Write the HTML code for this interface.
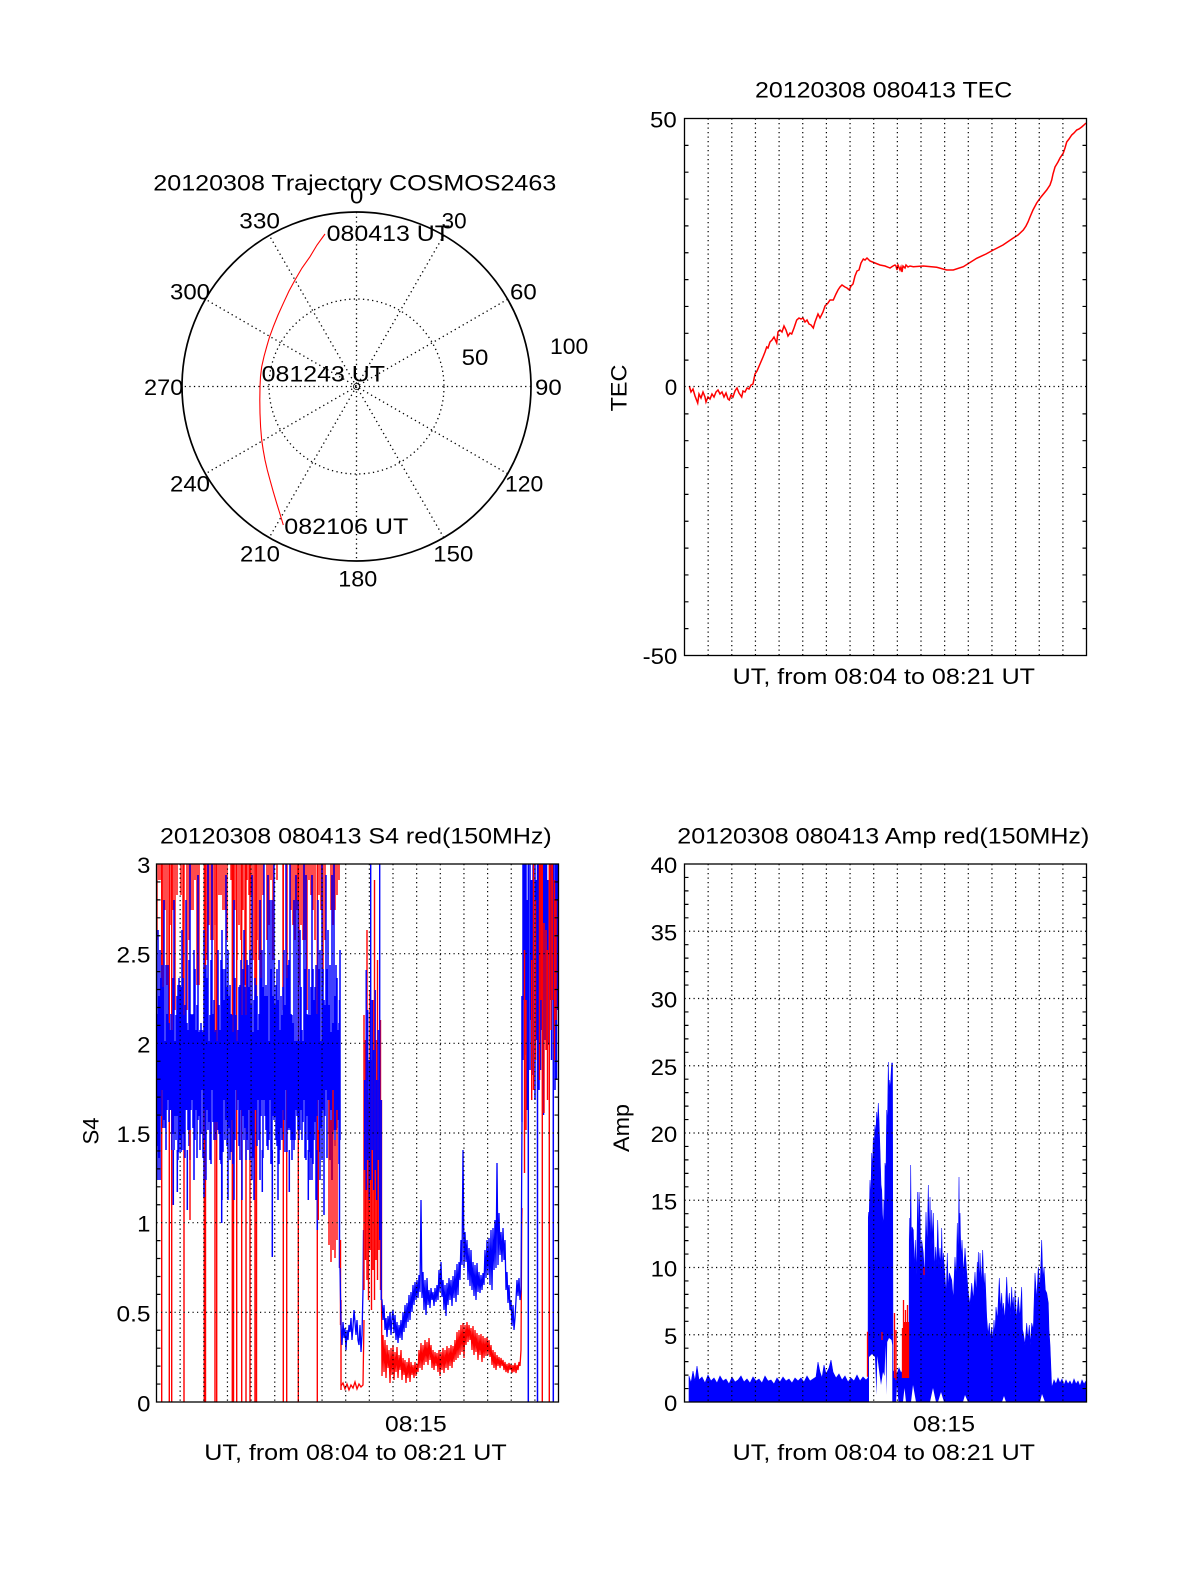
<!DOCTYPE html>
<html><head><meta charset="utf-8"><style>
html,body{margin:0;padding:0;background:#fff;}
svg{display:block;}
text{font-family:"Liberation Sans",Arial,sans-serif;font-size:22px;fill:#000;}
</style></head><body>
<svg width="1200" height="1575" viewBox="0 0 1200 1575" xmlns="http://www.w3.org/2000/svg">
<rect width="1200" height="1575" fill="#fff"/>

<!-- ================= POLAR ================= -->
<text x="153.3" y="190.7" textLength="403" lengthAdjust="spacingAndGlyphs">20120308 Trajectory COSMOS2463</text>
<g stroke="#000" stroke-width="1.3" stroke-dasharray="1.3 3.3" fill="none">
<circle cx="356.5" cy="386.5" r="87.5"/>
<line x1="356.5" y1="212" x2="356.5" y2="561"/>
<line x1="443.75" y1="235.4" x2="269.25" y2="537.6"/>
<line x1="507.6" y1="299.25" x2="205.4" y2="473.75"/>
<line x1="531" y1="386.5" x2="182" y2="386.5"/>
<line x1="507.6" y1="473.75" x2="205.4" y2="299.25"/>
<line x1="443.75" y1="537.6" x2="269.25" y2="235.4"/>
</g>
<circle cx="356.5" cy="386.5" r="3" fill="none" stroke="#000" stroke-width="0.8"/>
<circle cx="356.5" cy="386.5" r="174.5" fill="none" stroke="#000" stroke-width="1.7"/>
<polyline fill="none" stroke="#f00" stroke-width="1.1" points="325,234 317,245 310,256.7 302,268 295,280 289,291 283.3,303.3 278,315 273.3,326.7 269.5,337 266.7,346.7 264,356.5 261.7,366.7 260.5,376.5 260,386.7 259.8,400 260,413.3 260.6,427 261.7,440 263.2,450 265,460 267.3,470 270,480 273.2,491.5 276.7,503.3 280,514 283.3,525"/>
<text x="350" y="203.3" textLength="13.3" lengthAdjust="spacingAndGlyphs">0</text>
<text x="239.3" y="228.3" textLength="40.7" lengthAdjust="spacingAndGlyphs">330</text>
<text x="441.7" y="228.3" textLength="25" lengthAdjust="spacingAndGlyphs">30</text>
<text x="170" y="299.3" textLength="40" lengthAdjust="spacingAndGlyphs">300</text>
<text x="510" y="299.3" textLength="26.7" lengthAdjust="spacingAndGlyphs">60</text>
<text x="550" y="354" textLength="38.3" lengthAdjust="spacingAndGlyphs">100</text>
<text x="461.7" y="365" textLength="26.7" lengthAdjust="spacingAndGlyphs">50</text>
<text x="144" y="395" textLength="39.3" lengthAdjust="spacingAndGlyphs">270</text>
<text x="535" y="395" textLength="26.7" lengthAdjust="spacingAndGlyphs">90</text>
<text x="170" y="491.7" textLength="40" lengthAdjust="spacingAndGlyphs">240</text>
<text x="505" y="491.7" textLength="38.3" lengthAdjust="spacingAndGlyphs">120</text>
<text x="240" y="561.7" textLength="40" lengthAdjust="spacingAndGlyphs">210</text>
<text x="433.3" y="561.7" textLength="40" lengthAdjust="spacingAndGlyphs">150</text>
<text x="338.3" y="586.7" textLength="39" lengthAdjust="spacingAndGlyphs">180</text>
<text x="326.7" y="241" textLength="123.3" lengthAdjust="spacingAndGlyphs">080413 UT</text>
<text x="261.7" y="381.7" textLength="123.3" lengthAdjust="spacingAndGlyphs">081243 UT</text>
<text x="284.3" y="534" textLength="124" lengthAdjust="spacingAndGlyphs">082106 UT</text>

<!-- ================= TEC ================= -->
<text x="755" y="97.3" textLength="257.3" lengthAdjust="spacingAndGlyphs">20120308 080413 TEC</text>
<polyline fill="none" stroke="#f00" stroke-width="1.5" points="689.3,386 691,392 693,389 695,396 697.7,403 699,394 701,398 703,392 705,397 706,402 708,397 710,399 712,394 714,397 716,392 718,390 720,394 722,392 724,397 726,393 728,399 729.3,400 731,395 733,397 735,391 737,388 739,393 741.7,397 743,391 745,392 747,388 749,389 751,385 753,384 755,374 757,371 760,364 763,357 765,352 766.7,347 768,348 770,342 772,340 774,337 776.7,343 778,332 780,330 782,332 784,326 786,330 788,336 790,333 791.7,334 794,328 796.7,320 799,318 801,319 803,318 805,322 807,320 809,324 811,325 813.3,328 815,322 818,314 820,318 823,312 825,306 828,303 830,300 833.3,300 836,294 838,290 840,287 842,285 845,287 847,288 849.3,290 851,286 853,284 855,276 857,271 859,270 861,263 863.3,259 865,260 867,258 870,261 875,263 880,265 885,266 890,268 893,266 895,265 896,266 897,270 898,265 900,270 901,267 902,272 903,266 905,268 906,265 908,267 910,266 913.3,266.7 923.3,266 936.7,267.3 946.7,270 953.3,270 963.3,266.7 976.7,258.3 986,254 993.3,250 1003,245 1013.3,238 1018,235 1023.3,230 1026,226 1028,222 1030,217 1033,210 1036.7,203 1041,197 1046.7,190 1050,185 1051.7,180 1053,174 1055,167 1058,162 1060,158 1063.3,153 1065,148 1066.7,142 1069,139 1071.7,135 1074,133 1076.7,130 1079,129 1081.7,127 1084,125 1086,123"/>
<g stroke="#000" stroke-width="1.2" stroke-dasharray="1.2 3.3" fill="none">
<path d="M708.15 118.5V655.5M731.8 118.5V655.5M755.45 118.5V655.5M779.1 118.5V655.5M802.75 118.5V655.5M826.4 118.5V655.5M850.05 118.5V655.5M873.7 118.5V655.5M897.35 118.5V655.5M921 118.5V655.5M944.65 118.5V655.5M968.3 118.5V655.5M991.95 118.5V655.5M1015.6 118.5V655.5M1039.25 118.5V655.5M1062.9 118.5V655.5M684.5 386.5H1086.5"/>
</g>
<path stroke="#000" stroke-width="1.2" fill="none" d="M684.5 145.35h4M1086.5 145.35h-4M684.5 172.2h4M1086.5 172.2h-4M684.5 199.05h4M1086.5 199.05h-4M684.5 225.9h4M1086.5 225.9h-4M684.5 252.75h4M1086.5 252.75h-4M684.5 279.6h4M1086.5 279.6h-4M684.5 306.45h4M1086.5 306.45h-4M684.5 333.3h4M1086.5 333.3h-4M684.5 360.15h4M1086.5 360.15h-4M684.5 413.85h4M1086.5 413.85h-4M684.5 440.7h4M1086.5 440.7h-4M684.5 467.55h4M1086.5 467.55h-4M684.5 494.4h4M1086.5 494.4h-4M684.5 521.25h4M1086.5 521.25h-4M684.5 548.1h4M1086.5 548.1h-4M684.5 574.95h4M1086.5 574.95h-4M684.5 601.8h4M1086.5 601.8h-4M684.5 628.65h4M1086.5 628.65h-4"/>
<rect x="684.5" y="118.5" width="402" height="537" fill="none" stroke="#000" stroke-width="1.3"/>
<text x="676.7" y="127.3" text-anchor="end" textLength="26.7" lengthAdjust="spacingAndGlyphs">50</text>
<text x="677.3" y="395" text-anchor="end" textLength="12.5" lengthAdjust="spacingAndGlyphs">0</text>
<text x="677.3" y="664" text-anchor="end" textLength="34.6" lengthAdjust="spacingAndGlyphs">-50</text>
<text x="626.5" y="388" text-anchor="middle" transform="rotate(-90 626.5 388)" textLength="46.7" lengthAdjust="spacingAndGlyphs">TEC</text>
<text x="732.7" y="684" textLength="302.3" lengthAdjust="spacingAndGlyphs">UT, from 08:04 to 08:21 UT</text>

<!-- ================= S4 ================= -->
<text x="160" y="843.3" textLength="391.7" lengthAdjust="spacingAndGlyphs">20120308 080413 S4 red(150MHz)</text>
<path stroke="#f00" stroke-width="1.4" fill="none" d="M161.7 864V1402M169.3 864V1402M171.7 864V1402M184 864V1402M204.3 864V1402M205.5 864V1402M215 864V1402M216.7 864V1402M232.3 864V1402M233.5 864V1402M236.7 864V1402M241.7 864V1402M246 864V1402M250 864V1402M255 864V1402M256.5 864V1402M283.3 864V1402M286.7 864V1402M298.3 864V1402M317.3 864V1402"/>
<path stroke="#f00" stroke-width="1.4" fill="none" d="M157 864V940M159 864V880M161 864V880M163 864V1010M165 864V910M167 864V985M169 864V1010M171 864V925M173 864V910M175 864V1010M177 864V895M181 864V895M183 864V985M187 864V1010M189 864V940M191 864V910M193 864V910M195 864V880M197 864V985M199 864V985M205 864V1010M207 864V960M209 864V925M211 864V940M213 864V940M215 864V925M217 864V1010M219 864V895M221 864V895M223 864V910M225 864V910M227 864V940M231 864V880M233 864V985M235 864V910M237 864V960M239 864V925M241 864V940M243 864V910M245 864V985M247 864V880M249 864V895M251 864V895M253 864V960M255 864V985M257 864V940M259 864V960M261 864V985M263 864V895M267 864V940M269 864V925M271 864V880M273 864V960M277 864V880M283 864V1010M287 864V1010M291 864V910M293 864V925M295 864V940M297 864V910M299 864V985M301 864V925M303 864V940M305 864V940M307 864V1010M309 864V880M311 864V895M313 864V910M315 864V940M319 864V895M321 864V910M323 864V985M325 864V940M331 864V910M333 864V925M335 864V910M337 864V895M339 864V880"/>
<path stroke="#00f" stroke-width="1.5" fill="none" d="M158 930V1180M160 950V1180M162 965V1090M164 900V1120M166 965V1150M168 965V1100M170 1030V1110M172 1030V1150M174 900V1150M176 1015V1140M178 985V1160M180 985V1140M182 930V1150M184 1015V1150M186 900V1110M188 1030V1130M190 864V1160M192 1015V1100M194 950V1180M196 1030V1110M198 875V1120M200 1030V1150M202 1030V1090M204 930V1110M206 965V1180M208 864V1130M210 1015V1160M212 864V1090M214 1000V1140M216 1030V1140M218 950V1130M220 1030V1160M222 930V1200M224 1000V1100M226 875V1120M228 950V1200M230 985V1160M232 1015V1120M234 900V1200M236 1015V1090M238 1030V1100M240 985V1160M242 1015V1200M244 930V1140M246 1015V1160M248 965V1150M250 950V1160M252 875V1180M254 1000V1200M256 985V1110M258 1030V1100M260 900V1180M262 950V1100M264 864V1100M266 985V1130M268 875V1150M270 900V1100M272 900V1150M274 864V1120M276 985V1140M278 1000V1200M280 1030V1150M282 1015V1140M284 950V1120M286 864V1090M288 965V1130M290 864V1130M292 1015V1160M294 900V1150M296 875V1110M298 900V1130M300 930V1130M302 1030V1140M304 864V1100M306 875V1160M308 1015V1140M310 1015V1180M312 875V1180M314 1000V1140M316 965V1200M318 900V1100M320 950V1180M322 864V1160M324 1000V1200M326 875V1090M328 930V1100M330 965V1160M332 875V1180M334 864V1130M336 965V1130M338 1030V1120M340 950V1140M173.3 1150V1205M177.3 1150V1192M187.3 1150V1210M204 1150V1197M221.7 1150V1223M262.3 1150V1192M272.3 1150V1257M289.3 1150V1192M308.3 1150V1200M317.3 1150V1230M324 1150V1215M339.5 1000V1268"/>
<path stroke="#00f" stroke-width="1.5" fill="none" d="M157 1014V1146M159 996V1158M161 978V1116M163 987V1128M165 1041V1128M167 1014V1110M169 1023V1122M171 1014V1110M173 978V1134M175 1041V1116M177 996V1116M179 978V1152M181 987V1152M183 978V1134M185 1005V1158M187 1023V1110M189 960V1146M191 1014V1110M193 1014V1128M195 969V1140M197 1005V1158M199 1032V1116M201 1023V1134M203 1032V1158M205 969V1140M207 978V1110M209 1041V1122M211 960V1164M213 1014V1122M215 1032V1122M217 1041V1122M219 1005V1134M221 960V1164M223 969V1152M225 969V1140M227 987V1146M229 996V1128M231 1014V1152M233 1032V1164M235 978V1140M237 1041V1110M239 987V1146M241 960V1110M243 969V1116M245 987V1128M247 960V1140M249 987V1110M251 1005V1134M253 1032V1158M255 978V1110M257 996V1146M259 1014V1140M261 978V1116M263 987V1158M265 996V1116M267 996V1146M269 1041V1140M271 969V1164M273 996V1116M275 1005V1116M277 969V1146M279 960V1164M281 996V1128M283 987V1110M285 1005V1152M287 978V1152M289 960V1128M291 1014V1140M293 1023V1140M295 1041V1140M297 1041V1116M299 1041V1140M301 987V1110M303 1041V1122M305 969V1158M307 1014V1116M309 969V1152M311 987V1158M313 969V1164M315 987V1122M317 1014V1116M319 969V1152M321 1041V1128M323 969V1110M325 1005V1116M327 969V1158M329 1005V1134M331 1032V1110M333 1023V1134M335 996V1146M337 978V1128M339 1023V1164"/>
<path stroke="#f00" stroke-width="1.4" fill="none" d="M329 1100V1245M331 1120V1262M333 1090V1250M335 1140V1258M337 1110V1240M340.5 1240V1325M341 1300V1390M190 1130V1220M318.3 1130V1220"/>
<polyline fill="none" stroke="#f00" stroke-width="1.3" points="341,1386 343,1383 345,1389 347,1384 349,1390 351,1385 353,1388 355,1382 357,1389 359,1384 361,1387 363,1385 364,1320"/>
<polyline fill="none" stroke="#00f" stroke-width="1.3" points="340,1268 341,1325 342,1345 343,1322 344,1338 345,1328 346,1350 347,1330 348,1340 349,1325 350,1332 351,1318 352,1340 353,1327 354,1310 355,1322 356,1335 357,1320 358,1340 359,1345 360,1325 361,1352 362,1335 363,1290 363.5,1230"/>
<path stroke="#f00" stroke-width="1.4" fill="none" d="M364 1015V1290M365.5 1040V1260M367 930V1280M368.5 1100V1300M370 990V1250M371.5 1060V1310M373 1000V1270M374.5 880V1300M376 1040V1260M377.5 960V1280M379 1080V1250M380.5 1020V1290M381.5 1100V1300"/>
<path stroke="#00f" stroke-width="1.4" fill="none" d="M364.7 1080V1170M366.2 970V1190M367.7 1010V1160M369.2 1060V1200M370.7 864V1180M372.2 1000V1150M373.7 1050V1190M375.2 990V1170M376.7 1080V1200M378.2 1030V1160M379.7 864V1240M381.2 1100V1300"/>
<polyline fill="none" stroke="#f00" stroke-width="1.3" points="381.5,1300 382,1376 383,1335 384,1372 385,1340 386,1378 387,1345 388,1368 389,1350 390,1383 391,1348 392,1375 393,1345 394,1380 395,1352 396,1372 397,1347 398,1378 399,1355 400,1370 401,1350 402,1380 403,1358 404,1375 405,1360 406,1383 407,1362 408,1378 409,1358 410,1382 411,1362 412,1375 413,1365 414,1378 415,1362 416,1376 417,1364 418,1372 419,1350 420,1368 421,1343 422,1370 423,1345 424,1365 425,1340 426,1362 427,1342 428,1365 429,1338 430,1360 431,1345 432,1368 433,1350 434,1370 435,1352 436,1366 437,1353 438,1372 439,1350 440,1376 441,1352 442,1370 443,1348 444,1373 445,1350 446,1368 447,1346 448,1370 449,1348 450,1366 451,1345 452,1368 453,1346 454,1362 455,1340 456,1360 457,1332 458,1358 459,1330 460,1355 461,1325 462,1352 463,1323 464,1358 465,1325 466,1345 467,1322 468,1342 469,1325 470,1340 471,1328 472,1350 473,1326 474,1355 475,1330 476,1352 477,1333 478,1360 479,1335 480,1355 481,1334 482,1362 483,1336 484,1358 485,1338 486,1356 487,1337 488,1355 489,1340 490,1357 491,1345 492,1365 493,1350 494,1368 495,1352 496,1370 497,1355 498,1366 499,1357 500,1368 501,1358 502,1366 503,1360 504,1370 505,1362 506,1372 507,1364 508,1373 509,1363 510,1370 511,1364 512,1373 513,1365 514,1372 515,1363 516,1373 517,1365 518,1370 519,1362 520,1366 521,1350 521.7,1227 522,1208"/>
<polyline fill="none" stroke="#00f" stroke-width="1.3" points="381.5,1300 382,1300 383,1320 384,1305 385,1330 386,1318 387,1337 388,1316 389,1330 390,1312 391,1335 392,1318 393,1310 394,1333 395,1315 396,1340 397,1322 398,1343 399,1325 400,1338 401,1320 402,1340 403,1312 404,1332 405,1305 406,1328 407,1303 408,1322 409,1295 410,1320 411,1292 412,1312 413,1285 414,1305 415,1282 416,1300 417,1280 418,1298 419,1275 420,1292 421,1200 422,1298 423,1272 424,1310 425,1280 426,1315 427,1278 428,1305 429,1290 430,1308 431,1288 432,1300 433,1292 434,1306 435,1288 436,1302 437,1285 438,1300 439,1270 440,1292 441,1262 442,1297 443,1280 444,1310 445,1285 446,1316 447,1283 448,1305 449,1278 450,1300 451,1280 452,1306 453,1276 454,1298 455,1270 456,1302 457,1264 458,1295 459,1262 460,1280 461,1240 462,1265 463,1150 464,1268 465,1232 466,1262 467,1240 468,1280 469,1248 470,1286 471,1250 472,1290 473,1262 474,1296 475,1265 476,1300 477,1263 478,1292 479,1272 480,1293 481,1275 482,1290 483,1273 484,1285 485,1250 486,1278 487,1240 488,1275 489,1238 490,1285 491,1230 492,1290 493,1228 494,1270 495,1220 496,1268 497,1163 498,1265 499,1213 500,1255 501,1232 502,1262 503,1228 504,1260 505,1240 506,1290 507,1272 508,1303 509,1285 510,1310 511,1300 512,1326 513,1305 514,1330 515,1318 516,1300 517,1280 518,1296 519,1278 520,1300 521,1290 522,1122"/>
<path stroke="#00f" stroke-width="1.5" fill="none" d="M522 996V1122M523 864V1060M524.5 864V1000M526 864V1055M527 900V1110M528.3 864V1402M530 864V1070M531.5 880V1020M533 864V1075M535 864V1100M536.5 880V1040M537.5 864V1402M539 864V1090M540.5 864V1070M542 890V1030M543.5 864V1115M545 864V1040M546.5 864V1050M548 880V1045M550 864V1000M551.5 864V1060M553.3 864V1402M555 864V1090M556.5 864V1080M557.5 864V1010"/>
<path stroke="#f00" stroke-width="1.4" fill="none" d="M524.5 950V1173M526 1000V1130M531.7 960V1100M533.5 864V1090M535.5 900V1060M539.5 864V1080M541 864V1000M542.3 864V1402M544 923V1113M546 930V1050M547.5 950V1100M549.3 864V1402M551 864V1030M552.5 864V1000M554.5 880V1060M556 900V1020"/>
<g stroke="#000" stroke-width="1.2" stroke-dasharray="1.2 3.3" fill="none">
<path d="M180.15 864V1402M203.8 864V1402M227.45 864V1402M251.1 864V1402M274.75 864V1402M298.4 864V1402M322.05 864V1402M345.7 864V1402M369.35 864V1402M393 864V1402M416.65 864V1402M440.3 864V1402M463.95 864V1402M487.6 864V1402M511.25 864V1402M534.9 864V1402M156.5 1312.3H558.5M156.5 1222.7H558.5M156.5 1133H558.5M156.5 1043.3H558.5M156.5 953.7H558.5"/>
</g>
<path stroke="#000" stroke-width="1.2" fill="none" d="M156.5 1384.07h4M558.5 1384.07h-4M156.5 1366.13h4M558.5 1366.13h-4M156.5 1348.2h4M558.5 1348.2h-4M156.5 1330.27h4M558.5 1330.27h-4M156.5 1294.4h4M558.5 1294.4h-4M156.5 1276.47h4M558.5 1276.47h-4M156.5 1258.53h4M558.5 1258.53h-4M156.5 1240.6h4M558.5 1240.6h-4M156.5 1204.73h4M558.5 1204.73h-4M156.5 1186.8h4M558.5 1186.8h-4M156.5 1168.87h4M558.5 1168.87h-4M156.5 1150.93h4M558.5 1150.93h-4M156.5 1115.07h4M558.5 1115.07h-4M156.5 1097.13h4M558.5 1097.13h-4M156.5 1079.2h4M558.5 1079.2h-4M156.5 1061.27h4M558.5 1061.27h-4M156.5 1025.4h4M558.5 1025.4h-4M156.5 1007.47h4M558.5 1007.47h-4M156.5 989.53h4M558.5 989.53h-4M156.5 971.6h4M558.5 971.6h-4M156.5 935.73h4M558.5 935.73h-4M156.5 917.8h4M558.5 917.8h-4M156.5 899.87h4M558.5 899.87h-4M156.5 881.93h4M558.5 881.93h-4"/>
<rect x="156.5" y="864" width="402" height="538" fill="none" stroke="#000" stroke-width="1.3"/>
<text x="150.5" y="873" text-anchor="end" textLength="13.3" lengthAdjust="spacingAndGlyphs">3</text>
<text x="150.5" y="962.7" text-anchor="end" textLength="34" lengthAdjust="spacingAndGlyphs">2.5</text>
<text x="150.5" y="1052.3" text-anchor="end" textLength="13.3" lengthAdjust="spacingAndGlyphs">2</text>
<text x="150.5" y="1142" text-anchor="end" textLength="34" lengthAdjust="spacingAndGlyphs">1.5</text>
<text x="150.5" y="1231.7" text-anchor="end" textLength="13.3" lengthAdjust="spacingAndGlyphs">1</text>
<text x="150.5" y="1321.3" text-anchor="end" textLength="34" lengthAdjust="spacingAndGlyphs">0.5</text>
<text x="150.5" y="1411.3" text-anchor="end" textLength="13.3" lengthAdjust="spacingAndGlyphs">0</text>
<text x="98.3" y="1131" text-anchor="middle" transform="rotate(-90 98.3 1131)" textLength="27" lengthAdjust="spacingAndGlyphs">S4</text>
<text x="385" y="1431.7" textLength="61.7" lengthAdjust="spacingAndGlyphs">08:15</text>
<text x="204.3" y="1460" textLength="302.4" lengthAdjust="spacingAndGlyphs">UT, from 08:04 to 08:21 UT</text>

<!-- ================= AMP ================= -->
<text x="677.3" y="843.3" textLength="412" lengthAdjust="spacingAndGlyphs">20120308 080413 Amp red(150MHz)</text>
<path fill="#00f" stroke="#00f" stroke-width="0.6" d="M689 1402L689 1376 691 1383 693 1371 695 1381 697 1366 699 1380 702 1377 705 1383 708 1375 711 1381 714 1378 717 1383 720 1376 723 1381 726 1379 729 1384 732 1377 735 1382 738 1380 741 1376 744 1382 747 1379 750 1383 753 1377 756 1381 759 1379 762 1383 765 1376 768 1381 771 1380 774 1384 777 1378 780 1382 783 1377 786 1381 789 1379 792 1383 795 1378 798 1381 801 1378 804 1382 807 1376 810 1381 813 1379 816 1377 818 1362 820 1372 822 1378 824 1365 826 1374 829 1368 831 1360 833 1372 836 1378 839 1374 842 1380 845 1376 848 1382 851 1378 854 1381 857 1375 860 1381 863 1377 866 1380 868 1378 868.3 1212 869 1225 870 1180 870.8 1200 871.7 1153 872.5 1170 873.3 1137 874 1150 875 1125 875.8 1135 876.7 1112 877.5 1125 878.3 1103 879 1120 880 1150 881 1185 881.7 1190 882.5 1215 883.3 1227 884 1200 884.6 1210 885 1163 886 1170 886.7 1110 887.5 1125 888.3 1062 889 1095 889.7 1080 890.4 1090 891 1075 891.7 1063 892.5 1063 893 1372 895 1370 897 1374 899 1368 901 1373 903 1370 905 1375 907 1371 909 1374 909.3 1218 910 1270 910.7 1165 911.4 1250 912 1227 913.3 1230 914.3 1270 915.3 1240 916.5 1275 917.7 1192 918.4 1250 919 1192 920 1213 920.8 1265 921.7 1240 923.3 1253 924.6 1280 926 1212 927.2 1250 928.3 1185 929.2 1240 930 1197 931 1250 931.7 1210 932.5 1245 933.3 1213 934.5 1270 935.7 1247 936.7 1270 937.7 1220 939 1265 940 1248 941 1270 941.7 1228 942.5 1270 943.3 1253 945 1277 946.2 1295 947.3 1253 948.3 1290 949.3 1273 951.7 1280 953.3 1300 955 1257 956.2 1280 957.3 1223 958.2 1265 959 1177 959.5 1240 960 1213 961 1260 962 1240 963.5 1275 965 1248 966.7 1273 968.3 1293 970 1305 971.7 1283 973.3 1300 975 1272 976.2 1295 977.3 1262 977.8 1290 978.3 1252 979.2 1285 980 1253 981.3 1285 982.7 1250 984 1290 985 1273 986.7 1317 988 1335 989.3 1323 990.5 1340 991.7 1327 993 1340 994 1320 995 1335 996 1307 997.5 1320 999.3 1278 1000.5 1310 1001.7 1293 1002.5 1315 1003.3 1303 1005 1320 1006.7 1277 1008 1310 1009.3 1293 1010.5 1315 1011.7 1287 1012.5 1310 1013.3 1297 1014.2 1320 1015 1290 1016.6 1320 1018.3 1297 1020 1318 1021.7 1287 1022.5 1330 1023.3 1333 1025 1345 1026.7 1323 1028 1340 1029.3 1325 1030.5 1345 1031.7 1323 1033.3 1330 1035 1273 1036.7 1300 1038.3 1267 1040 1290 1041.7 1240 1042.8 1280 1044 1267 1045.3 1290 1046.7 1293 1048.3 1303 1049 1330 1050 1345 1051.7 1388 1054 1380 1056 1384 1058 1378 1060 1383 1062 1379 1064 1385 1066 1380 1068 1384 1070 1381 1072 1385 1074 1379 1076 1384 1078 1381 1080 1386 1082 1380 1084 1384 1086 1381 1086 1402Z"/>
<path fill="#fff" d="M869 1402L869 1357 872 1354 875 1357 876.5 1395 877.3 1356 879 1370 881 1385 883 1372 884.5 1376 885.5 1345 886.3 1395 887.2 1342 889 1338 891.5 1340 892.3 1345 892.3 1402ZM911 1402L913 1385 916 1402ZM930 1402L933 1388 936 1402ZM938 1402L941 1392 944 1402ZM963 1402L965 1395 968 1402ZM1002 1402L1004 1396 1006 1402ZM1040 1402L1042 1394 1045 1402ZM896 1402L897 1385 898.5 1402ZM903 1402L904.5 1388 906 1402Z"/>
<path stroke="#f00" stroke-width="1.3" fill="none" d="M867.5 1331.7V1376.7M882 1332V1340M894.5 1313V1378M896 1330V1380M902.5 1328V1378M903.5 1300V1378M904.5 1322V1378M905.5 1310V1378M906.5 1322V1378M907.5 1305V1378M908.5 1322V1378M924 1267V1275"/>
<g stroke="#000" stroke-width="1.2" stroke-dasharray="1.2 3.3" fill="none">
<path d="M708.15 864V1402M731.8 864V1402M755.45 864V1402M779.1 864V1402M802.75 864V1402M826.4 864V1402M850.05 864V1402M873.7 864V1402M897.35 864V1402M921 864V1402M944.65 864V1402M968.3 864V1402M991.95 864V1402M1015.6 864V1402M1039.25 864V1402M1062.9 864V1402M684.5 1334.75H1086.5M684.5 1267.5H1086.5M684.5 1200.25H1086.5M684.5 1133H1086.5M684.5 1065.75H1086.5M684.5 998.5H1086.5M684.5 931.25H1086.5"/>
</g>
<path stroke="#000" stroke-width="1.2" fill="none" d="M684.5 1388.55h4M1086.5 1388.55h-4M684.5 1375.1h4M1086.5 1375.1h-4M684.5 1361.65h4M1086.5 1361.65h-4M684.5 1348.2h4M1086.5 1348.2h-4M684.5 1321.3h4M1086.5 1321.3h-4M684.5 1307.85h4M1086.5 1307.85h-4M684.5 1294.4h4M1086.5 1294.4h-4M684.5 1280.95h4M1086.5 1280.95h-4M684.5 1254.05h4M1086.5 1254.05h-4M684.5 1240.6h4M1086.5 1240.6h-4M684.5 1227.15h4M1086.5 1227.15h-4M684.5 1213.7h4M1086.5 1213.7h-4M684.5 1186.8h4M1086.5 1186.8h-4M684.5 1173.35h4M1086.5 1173.35h-4M684.5 1159.9h4M1086.5 1159.9h-4M684.5 1146.45h4M1086.5 1146.45h-4M684.5 1119.55h4M1086.5 1119.55h-4M684.5 1106.1h4M1086.5 1106.1h-4M684.5 1092.65h4M1086.5 1092.65h-4M684.5 1079.2h4M1086.5 1079.2h-4M684.5 1052.3h4M1086.5 1052.3h-4M684.5 1038.85h4M1086.5 1038.85h-4M684.5 1025.4h4M1086.5 1025.4h-4M684.5 1011.95h4M1086.5 1011.95h-4M684.5 985.05h4M1086.5 985.05h-4M684.5 971.6h4M1086.5 971.6h-4M684.5 958.15h4M1086.5 958.15h-4M684.5 944.7h4M1086.5 944.7h-4M684.5 917.8h4M1086.5 917.8h-4M684.5 904.35h4M1086.5 904.35h-4M684.5 890.9h4M1086.5 890.9h-4M684.5 877.45h4M1086.5 877.45h-4"/>
<rect x="684.5" y="864" width="402" height="538" fill="none" stroke="#000" stroke-width="1.3"/>
<text x="677.3" y="873" text-anchor="end" textLength="26.7" lengthAdjust="spacingAndGlyphs">40</text>
<text x="677.3" y="940.3" text-anchor="end" textLength="26.7" lengthAdjust="spacingAndGlyphs">35</text>
<text x="677.3" y="1007.5" text-anchor="end" textLength="26.7" lengthAdjust="spacingAndGlyphs">30</text>
<text x="677.3" y="1074.8" text-anchor="end" textLength="26.7" lengthAdjust="spacingAndGlyphs">25</text>
<text x="677.3" y="1142" text-anchor="end" textLength="26.7" lengthAdjust="spacingAndGlyphs">20</text>
<text x="677.3" y="1209.3" text-anchor="end" textLength="26.7" lengthAdjust="spacingAndGlyphs">15</text>
<text x="677.3" y="1276.5" text-anchor="end" textLength="26.7" lengthAdjust="spacingAndGlyphs">10</text>
<text x="677.3" y="1343.8" text-anchor="end" textLength="13.3" lengthAdjust="spacingAndGlyphs">5</text>
<text x="677.3" y="1411" text-anchor="end" textLength="13.3" lengthAdjust="spacingAndGlyphs">0</text>
<text x="629" y="1128" text-anchor="middle" transform="rotate(-90 629 1128)" textLength="48" lengthAdjust="spacingAndGlyphs">Amp</text>
<text x="913" y="1431.7" textLength="62" lengthAdjust="spacingAndGlyphs">08:15</text>
<text x="732.7" y="1460" textLength="302.3" lengthAdjust="spacingAndGlyphs">UT, from 08:04 to 08:21 UT</text>
</svg>
</body></html>
